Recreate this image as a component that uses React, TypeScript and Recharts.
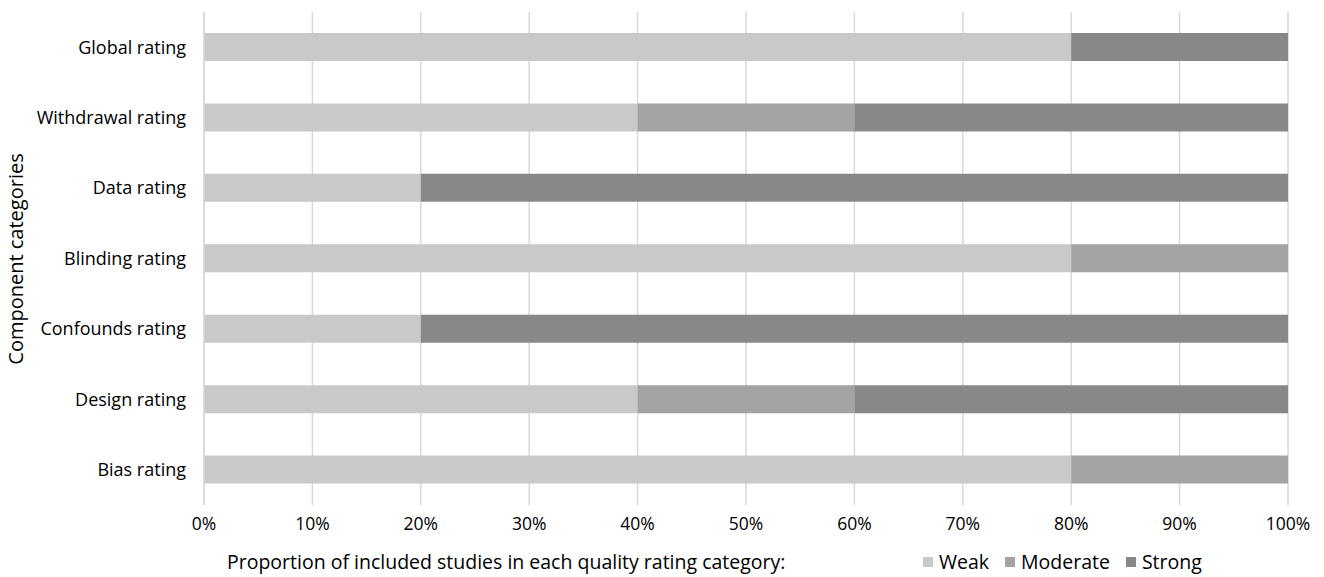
import React from 'react';
import { BarChart, Bar, XAxis, YAxis, CartesianGrid } from 'recharts';

const categories = [
  'Global rating',
  'Withdrawal rating',
  'Data rating',
  'Blinding rating',
  'Confounds rating',
  'Design rating',
  'Bias rating',
];
const weak = [80, 40, 20, 80, 20, 40, 80];
const moderate = [0, 20, 0, 20, 0, 20, 20];
const strong = [20, 40, 80, 0, 80, 40, 0];
const xTicks = [0, 10, 20, 30, 40, 50, 60, 70, 80, 90, 100];
const seriesNames = ['Weak', 'Moderate', 'Strong'];
const seriesColors = ['#c9c9c9', '#a3a3a3', '#888888'];

const data = categories.map((c, i) => ({
  name: c,
  Weak: weak[i],
  Moderate: moderate[i],
  Strong: strong[i],
}));

const FONT = '"Open Sans", sans-serif';

export default function App() {
  return (
    <div style={{ position: 'relative', width: 1308, height: 569, fontFamily: FONT }}>
      <BarChart
        width={1308}
        height={561}
        data={data}
        layout="vertical"
        margin={{ top: 4, right: 28, bottom: 34, left: 0 }}
        style={{ overflow: 'visible' }}
      >
        <CartesianGrid horizontal={false} stroke="#d9d9d9" strokeWidth={1.5} />
        <XAxis
          type="number"
          domain={[0, 100]}
          ticks={xTicks}
          tickFormatter={(v: number) => `${v}%`}
          axisLine={false}
          tickLine={false}
          tickSize={0}
          tickMargin={13}
          height={30}
          interval={0}
          tick={{ fontSize: 17.5, fill: '#000', fontFamily: FONT }}
        />
        <YAxis
          type="category"
          dataKey="name"
          width={196}
          axisLine={{ stroke: '#d9d9d9', strokeWidth: 1.5 }}
          tickLine={false}
          tickSize={0}
          tickMargin={18}
          interval={0}
          tick={{ fontSize: 18, fill: '#000', fontFamily: FONT }}
        />
        {seriesNames.map((s, i) => (
          <Bar
            key={s}
            dataKey={s}
            stackId="a"
            fill={seriesColors[i]}
            barSize={28}
            isAnimationActive={false}
          />
        ))}
      </BarChart>
      <div
        style={{
          position: 'absolute',
          left: 8,
          top: 250.5,
          transform: 'translate(-50%, -50%) rotate(-90deg)',
          fontSize: 20,
          lineHeight: '24px',
          whiteSpace: 'nowrap',
          color: '#000',
        }}
      >
        Component categories
      </div>
      <div
        style={{
          position: 'absolute',
          left: 219,
          top: 541,
          fontSize: 19.5,
          lineHeight: '26px',
          whiteSpace: 'nowrap',
          color: '#000',
        }}
      >
        Proportion of included studies in each quality rating category:
      </div>
      <div
        style={{
          position: 'absolute',
          left: 915,
          top: 541,
          fontSize: 19.5,
          lineHeight: '26px',
          display: 'flex',
          gap: 16,
          whiteSpace: 'nowrap',
          color: '#000',
        }}
      >
        {seriesNames.map((s, i) => (
          <span key={s} style={{ display: 'flex', alignItems: 'center' }}>
            <span
              style={{
                display: 'inline-block',
                width: 10,
                height: 10,
                background: seriesColors[i],
                marginRight: 6,
              }}
            />
            {s}
          </span>
        ))}
      </div>
    </div>
  );
}
